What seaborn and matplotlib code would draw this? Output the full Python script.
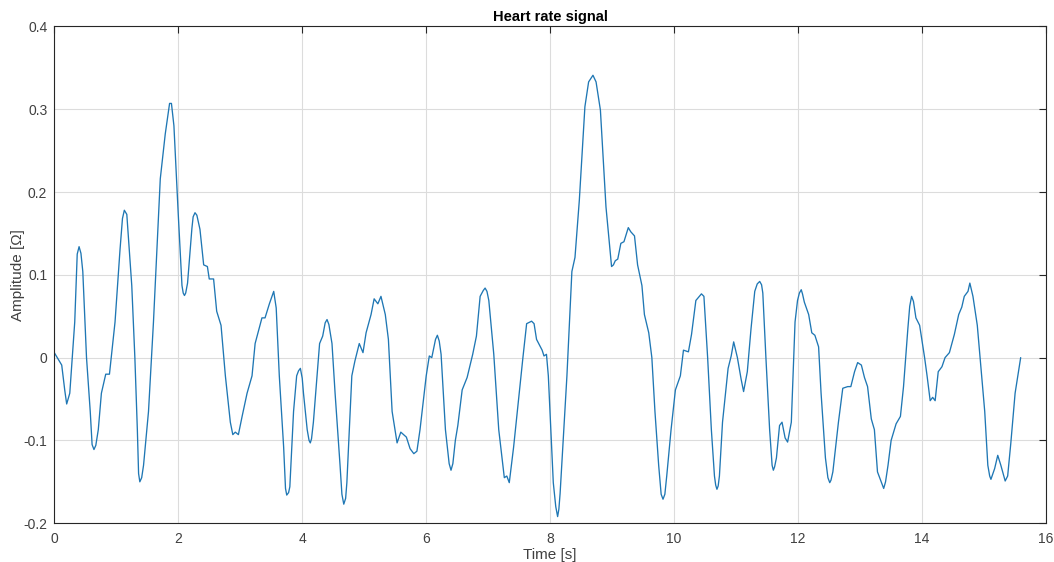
import numpy as np
import pandas as pd
import matplotlib
matplotlib.use("Agg")
import matplotlib.pyplot as plt
import seaborn as sns
from matplotlib.ticker import FuncFormatter

# Values
time_s = [
    0.00, 0.12, 0.17, 0.20, 0.25, 0.33, 0.37, 0.40, 0.43, 0.46, 0.52, 0.58, 0.61, 0.64, 0.67,
    0.71, 0.76, 0.83, 0.89, 0.98, 1.06, 1.10, 1.13, 1.17, 1.25, 1.30, 1.34, 1.36, 1.38, 1.41,
    1.44, 1.52, 1.60, 1.71, 1.79, 1.86, 1.89, 1.93, 2.00, 2.06, 2.08, 2.10, 2.12, 2.15, 2.22,
    2.24, 2.27, 2.30, 2.35, 2.41, 2.47, 2.50, 2.57, 2.62, 2.69, 2.76, 2.84, 2.88, 2.92, 2.97,
    3.03, 3.11, 3.19, 3.24, 3.35, 3.40, 3.47, 3.54, 3.58, 3.63, 3.70, 3.73, 3.75, 3.78, 3.80,
    3.86, 3.91, 3.94, 3.97, 4.00, 4.02, 4.08, 4.11, 4.13, 4.15, 4.18, 4.28, 4.33, 4.37, 4.40,
    4.43, 4.48, 4.53, 4.61, 4.64, 4.67, 4.70, 4.72, 4.80, 4.85, 4.92, 4.98, 5.03, 5.11, 5.16,
    5.22, 5.27, 5.34, 5.39, 5.45, 5.53, 5.59, 5.68, 5.74, 5.80, 5.85, 5.90, 6.00, 6.05, 6.09,
    6.15, 6.18, 6.21, 6.24, 6.31, 6.37, 6.40, 6.43, 6.47, 6.51, 6.58, 6.66, 6.75, 6.81, 6.87,
    6.92, 6.95, 6.98, 7.01, 7.09, 7.17, 7.26, 7.30, 7.34, 7.41, 7.47, 7.56, 7.62, 7.70, 7.74,
    7.78, 7.87, 7.90, 7.94, 7.97, 8.05, 8.09, 8.12, 8.14, 8.16, 8.27, 8.35, 8.40, 8.47, 8.56,
    8.62, 8.69, 8.74, 8.81, 8.90, 8.99, 9.02, 9.05, 9.09, 9.14, 9.19, 9.26, 9.30, 9.36, 9.41,
    9.48, 9.52, 9.59, 9.64, 9.69, 9.75, 9.79, 9.82, 9.85, 9.88, 9.95, 10.02, 10.10, 10.15,
    10.23, 10.28, 10.35, 10.44, 10.48, 10.54, 10.60, 10.65, 10.67, 10.69, 10.71, 10.73, 10.78,
    10.87, 10.92, 10.96, 11.02, 11.08, 11.12, 11.18, 11.24, 11.30, 11.34, 11.38, 11.41, 11.43,
    11.48, 11.54, 11.58, 11.60, 11.62, 11.65, 11.70, 11.74, 11.79, 11.83, 11.89, 11.95, 11.99,
    12.02, 12.05, 12.07, 12.10, 12.17, 12.22, 12.27, 12.33, 12.37, 12.44, 12.48, 12.51, 12.53,
    12.56, 12.65, 12.72, 12.80, 12.85, 12.91, 12.96, 13.02, 13.07, 13.12, 13.18, 13.23, 13.28,
    13.35, 13.38, 13.41, 13.45, 13.50, 13.58, 13.65, 13.70, 13.77, 13.80, 13.83, 13.86, 13.90,
    13.96, 14.04, 14.08, 14.13, 14.17, 14.21, 14.26, 14.32, 14.37, 14.44, 14.52, 14.59, 14.64,
    14.68, 14.74, 14.77, 14.82, 14.89, 14.95, 15.01, 15.06, 15.09, 15.11, 15.17, 15.22, 15.27,
    15.34, 15.38, 15.43, 15.50, 15.59,
]
amplitude = [
    0.006, -0.009, -0.040, -0.056, -0.043, 0.043, 0.125, 0.134, 0.126, 0.104, 0.000, -0.065, -0.105, -0.111, -0.106,
    -0.087, -0.043, -0.020, -0.020, 0.043, 0.130, 0.168, 0.178, 0.173, 0.087, 0.000, -0.087, -0.140, -0.150, -0.145,
    -0.130, -0.065, 0.043, 0.216, 0.270, 0.307, 0.307, 0.280, 0.173, 0.087, 0.078, 0.075, 0.078, 0.090, 0.156,
    0.170, 0.175, 0.172, 0.155, 0.112, 0.110, 0.095, 0.095, 0.056, 0.039, -0.022, -0.078, -0.093, -0.090, -0.093,
    -0.071, -0.043, -0.022, 0.017, 0.048, 0.048, 0.065, 0.080, 0.060, -0.022, -0.108, -0.158, -0.166, -0.163, -0.156,
    -0.065, -0.022, -0.016, -0.013, -0.025, -0.043, -0.087, -0.100, -0.103, -0.098, -0.078, 0.017, 0.026, 0.042, 0.046,
    0.040, 0.017, -0.043, -0.130, -0.165, -0.177, -0.170, -0.151, -0.022, -0.004, 0.017, 0.006, 0.030, 0.052, 0.071,
    0.065, 0.074, 0.052, 0.022, -0.065, -0.103, -0.090, -0.096, -0.110, -0.116, -0.113, -0.087, -0.022, 0.002, 0.000,
    0.022, 0.027, 0.020, 0.004, -0.087, -0.128, -0.136, -0.128, -0.100, -0.082, -0.039, -0.024, 0.004, 0.026, 0.074,
    0.081, 0.084, 0.080, 0.069, 0.004, -0.087, -0.145, -0.143, -0.151, -0.108, -0.065, 0.000, 0.041, 0.044, 0.041,
    0.022, 0.009, 0.002, 0.004, -0.022, -0.151, -0.180, -0.192, -0.183, -0.164, -0.022, 0.104, 0.121, 0.190, 0.303,
    0.333, 0.341, 0.333, 0.299, 0.182, 0.110, 0.112, 0.117, 0.119, 0.138, 0.140, 0.157, 0.152, 0.147, 0.112,
    0.087, 0.052, 0.030, 0.000, -0.065, -0.130, -0.165, -0.171, -0.165, -0.143, -0.087, -0.039, -0.022, 0.009,
    0.007, 0.028, 0.069, 0.077, 0.074, 0.000, -0.087, -0.143, -0.154, -0.159, -0.155, -0.143, -0.078,
    -0.013, 0.002, 0.019, 0.000, -0.026, -0.041, -0.017, 0.035, 0.080, 0.089, 0.092, 0.088, 0.078,
    0.000, -0.087, -0.130, -0.136, -0.132, -0.121, -0.082, -0.078, -0.097, -0.102, -0.078, 0.043, 0.069,
    0.078, 0.082, 0.077, 0.067, 0.052, 0.030, 0.027, 0.013, -0.043, -0.121, -0.145, -0.151, -0.148,
    -0.138, -0.078, -0.037, -0.035, -0.035, -0.017, -0.006, -0.009, -0.024, -0.035, -0.074, -0.087, -0.138,
    -0.152, -0.158, -0.150, -0.130, -0.100, -0.080, -0.071, -0.035, 0.035, 0.062, 0.074, 0.068, 0.048,
    0.039, 0.000, -0.022, -0.052, -0.048, -0.052, -0.017, -0.011, 0.000, 0.006, 0.028, 0.052, 0.061,
    0.074, 0.080, 0.090, 0.074, 0.039, -0.013, -0.065, -0.130, -0.143, -0.147, -0.134, -0.118, -0.130,
    -0.149, -0.143, -0.104, -0.043, 0.000,
]
x_ticks = [0, 2, 4, 6, 8, 10, 12, 14, 16]
y_ticks = [-0.2, -0.1, 0, 0.1, 0.2, 0.3, 0.4]

df = pd.DataFrame({"Time": time_s, "Amplitude": amplitude})

sns.set_theme(style="white")
plt.rcParams["font.family"] = ["Liberation Sans", "DejaVu Sans"]
plt.rcParams["axes.unicode_minus"] = False

fig = plt.figure(figsize=(10.54, 5.62), dpi=100)
ax = fig.add_axes([0.0515, 0.069, 0.9410, 0.884])

sns.lineplot(data=df, x="Time", y="Amplitude", ax=ax, color="#1f77b4",
             linewidth=0.95, sort=False, estimator=None)

ax.set_xlim(0, 16)
ax.set_ylim(-0.2, 0.4)
ax.set_xticks(x_ticks)
ax.set_yticks(y_ticks)
ax.yaxis.set_major_formatter(FuncFormatter(lambda v, p: "0" if abs(v) < 1e-9 else f"{v:g}"))

ax.grid(True, color="#dcdcdc", linewidth=0.8)
ax.set_axisbelow(True)
for s in ax.spines.values():
    s.set_color("#262626")
    s.set_linewidth(0.8)
    s.set_visible(True)
ax.tick_params(direction="in", top=True, right=True, length=5, width=0.8,
               colors="#262626", labelsize=10, pad=5)
ax.tick_params(axis="x", pad=6)
for lbl in ax.get_xticklabels() + ax.get_yticklabels():
    lbl.set_color("#404040")

ax.set_title("Heart rate signal", fontsize=10.5, fontweight="bold", color="black", pad=4)
ax.set_xlabel("Time [s]", fontsize=11, color="#404040", labelpad=2)
ax.set_ylabel("Amplitude [Ω]", fontsize=11, color="#404040", labelpad=-1)

fig.savefig("out.png", dpi=100, facecolor="white")
